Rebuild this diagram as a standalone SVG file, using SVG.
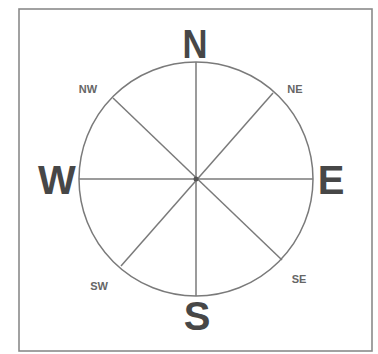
<svg xmlns="http://www.w3.org/2000/svg" width="378" height="354" viewBox="0 0 378 354">
<style>
.frame{fill:none;stroke:#8a8a8a;stroke-width:1.6}
.ln{fill:none;stroke:#7a7a7a;stroke-width:1.5}
.big{font-family:"Liberation Sans",Arial,sans-serif;font-weight:bold;font-size:40px;fill:#474747;text-anchor:middle}
.sm{font-family:"Liberation Sans",Arial,sans-serif;font-weight:bold;font-size:11px;fill:#666;text-anchor:middle}
</style>
<rect width="378" height="354" fill="#fff"/>
<rect class="frame" x="19" y="9" width="353" height="342"/>
<g id="rose">
<circle class="ln" cx="196" cy="179" r="117"/>
</g>
<g id="connectors">
<line class="ln" x1="196" y1="62" x2="196" y2="296"/>
<line class="ln" x1="79" y1="179" x2="313" y2="179"/>
<line class="ln" x1="273" y1="93" x2="121" y2="266"/>
<line class="ln" x1="113" y1="98" x2="282" y2="260"/>
<circle cx="196" cy="179" r="2.5" fill="#555"/>
</g>
<g id="N"><text class="big" x="195" y="58" textLength="25" lengthAdjust="spacingAndGlyphs">N</text></g>
<g id="S"><text class="big" x="197" y="330">S</text></g>
<g id="W"><text class="big" x="57" y="194">W</text></g>
<g id="E"><text class="big" x="331" y="194">E</text></g>
<g id="NW"><text class="sm" x="88" y="93">NW</text></g>
<g id="NE"><text class="sm" x="295" y="93">NE</text></g>
<g id="SW"><text class="sm" x="99" y="290">SW</text></g>
<g id="SE"><text class="sm" x="299" y="283">SE</text></g>
</svg>
